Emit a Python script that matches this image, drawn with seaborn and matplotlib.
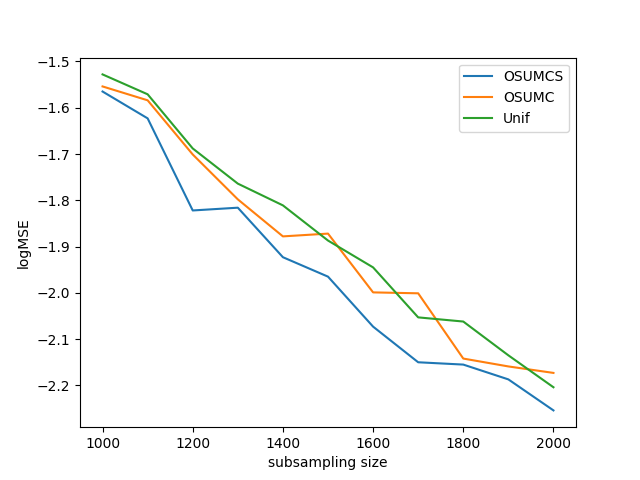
import pandas
import matplotlib
matplotlib.use('Agg')
import matplotlib.pyplot as plt
import seaborn as sns

SIZES = [1000, 1100, 1200, 1300, 1400, 1500, 1600, 1700, 1800, 1900, 2000]
OSUMCS = [-1.565, -1.623, -1.822, -1.816, -1.923, -1.965, -2.073, -2.150, -2.155, -2.187, -2.254]
OSUMC = [-1.554, -1.584, -1.701, -1.798, -1.878, -1.872, -1.999, -2.001, -2.142, -2.159, -2.173]
UNIF = [-1.528, -1.571, -1.688, -1.764, -1.811, -1.887, -1.945, -2.053, -2.062, -2.135, -2.204]

METHODS = ['OSUMCS', 'OSUMC', 'Unif']

# long format table for seaborn
rows = []
for name, vals in zip(METHODS, [OSUMCS, OSUMC, UNIF]):
  for s, v in zip(SIZES, vals):
    rows.append({'size': s, 'logMSE': v, 'method': name})
df = pandas.DataFrame(rows)

fig, ax = plt.subplots(figsize=(6.4, 4.8), dpi=100)
sns.lineplot(data=df, x='size', y='logMSE', hue='method', hue_order=METHODS,
             palette=['tab:blue', 'tab:orange', 'tab:green'], ax=ax)
ax.set_xlabel('subsampling size')
ax.set_ylabel('logMSE')
ax.legend(loc='upper right')

fig.savefig('out.png', dpi=100)
